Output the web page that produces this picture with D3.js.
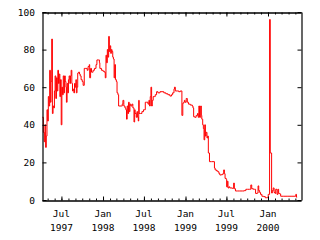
<!DOCTYPE html>
<html><head><meta charset="utf-8">
<script src="https://cdn.jsdelivr.net/npm/d3@7"></script>
<style>
html,body{margin:0;padding:0;background:#fff;}
svg{display:block;}
text{font-family:"DejaVu Sans Mono",monospace;font-size:9.5px;fill:#000;}
</style></head><body>
<svg id="c" width="320" height="240"></svg>
<script>
const dates = ["1997-04-08","1997-04-12","1997-04-16","1997-04-19","1997-04-22","1997-04-25","1997-04-28","1997-05-01","1997-05-04","1997-05-07","1997-05-10","1997-05-13","1997-05-16","1997-05-19","1997-05-22","1997-05-25","1997-05-28","1997-05-31","1997-06-03","1997-06-06","1997-06-09","1997-06-12","1997-06-15","1997-06-18","1997-06-21","1997-06-24","1997-06-27","1997-06-30","1997-07-03","1997-07-06","1997-07-09","1997-07-12","1997-07-15","1997-07-18","1997-07-21","1997-07-23","1997-07-26","1997-07-29","1997-08-01","1997-08-04","1997-08-07","1997-08-10","1997-08-13","1997-08-16","1997-08-19","1997-08-22","1997-08-25","1997-08-28","1997-08-31","1997-09-03","1997-09-05","1997-09-08","1997-09-11","1997-09-15","1997-09-19","1997-09-22","1997-09-26","1997-10-01","1997-10-05","1997-10-10","1997-10-14","1997-10-18","1997-10-23","1997-10-27","1997-11-01","1997-11-03","1997-11-07","1997-11-11","1997-11-18","1997-11-24","1997-12-01","1997-12-05","1997-12-12","1997-12-16","1997-12-18","1997-12-25","1998-01-01","1998-01-07","1998-01-11","1998-01-14","1998-01-17","1998-01-20","1998-01-23","1998-01-26","1998-01-29","1998-02-01","1998-02-04","1998-02-07","1998-02-10","1998-02-13","1998-02-16","1998-02-19","1998-02-22","1998-02-25","1998-03-01","1998-03-04","1998-03-08","1998-03-11","1998-03-17","1998-03-23","1998-03-27","1998-03-30","1998-04-03","1998-04-08","1998-04-12","1998-04-15","1998-04-18","1998-04-21","1998-04-24","1998-04-27","1998-04-30","1998-05-04","1998-05-09","1998-05-13","1998-05-18","1998-05-21","1998-05-23","1998-05-28","1998-05-31","1998-06-03","1998-06-06","1998-06-08","1998-06-10","1998-06-16","1998-06-22","1998-06-29","1998-07-05","1998-07-07","1998-07-12","1998-07-19","1998-07-23","1998-07-26","1998-07-29","1998-08-01","1998-08-04","1998-08-07","1998-08-11","1998-08-16","1998-08-20","1998-08-26","1998-09-01","1998-09-10","1998-09-19","1998-09-27","1998-10-06","1998-10-15","1998-10-24","1998-10-31","1998-11-05","1998-11-11","1998-11-13","1998-11-17","1998-11-25","1998-12-02","1998-12-09","1998-12-16","1998-12-20","1998-12-24","1998-12-27","1998-12-30","1999-01-04","1999-01-09","1999-01-14","1999-01-22","1999-01-31","1999-02-03","1999-02-06","1999-02-11","1999-02-17","1999-02-23","1999-02-26","1999-03-01","1999-03-04","1999-03-09","1999-03-12","1999-03-14","1999-03-18","1999-03-21","1999-03-24","1999-03-27","1999-03-30","1999-04-02","1999-04-06","1999-04-09","1999-04-12","1999-04-17","1999-04-26","1999-05-07","1999-05-09","1999-05-12","1999-05-18","1999-05-24","1999-05-29","1999-06-02","1999-06-09","1999-06-15","1999-06-19","1999-06-22","1999-06-25","1999-06-30","1999-07-02","1999-07-05","1999-07-08","1999-07-12","1999-07-16","1999-07-21","1999-07-27","1999-08-02","1999-08-05","1999-08-10","1999-08-18","1999-08-29","1999-09-09","1999-09-18","1999-09-25","1999-10-03","1999-10-12","1999-10-17","1999-10-21","1999-10-28","1999-11-03","1999-11-07","1999-11-14","1999-11-18","1999-11-21","1999-11-25","1999-11-29","1999-12-05","1999-12-12","1999-12-20","1999-12-27","1999-12-31","2000-01-02","2000-01-08","2000-01-11","2000-01-14","2000-01-17","2000-01-20","2000-01-24","2000-01-28","2000-02-01","2000-02-04","2000-02-10","2000-02-14","2000-02-17","2000-02-22","2000-02-26","2000-03-11","2000-03-29","2000-04-16","2000-04-30","2000-05-03","2000-05-06","2000-05-09"];
const values = [44,36,31,40,28,34,48,42,55,50,69,52,63,85.6,46,50,49,58,66,54,65,58,69,62,67,55,64,40,60,56,66,57,66,63,60,52,62,57,64,66,62,66,69,62,58,59,57,62,60,64,57,60,67.5,68,67,66,64,63,61,70,70,70,69,71,72,65,70,68,69,70,72,74.5,74.5,73,70,69,68.5,68,65,77,73,80,76,87,79,82,78,80,79,76,75,65,72,64,63,57,56,50,50,50,51,53,50,49,48,43,50,46,52,47,51,50,51,49,41.5,48,46,44,47,44,42,53,46,46,47,48,48,52,52,51,53,50,55,60,50,53,55,55,56,57.6,57,57.6,57.6,57,56.5,56,55.3,56,57,59,60,58,58,57.6,58,45,51.5,52,53,52,54,52,51,50.5,50,49,44.3,44,45,46,44,50,44,50,45,43,40,38,32,40,34,36,33,34,25,20.4,20.4,20.4,17,16,15.5,15,14,13.3,13.5,14,16,14,11.5,11,7,10,6.4,7,6.4,6.4,6.2,9,6,4.8,4.8,4.8,4.8,5,5.7,5.7,5.7,8,6,5.7,5.7,3.5,3.7,7.5,5,4,3,2,1.8,1.2,1.2,1.5,3,96,25,25,3.7,5,6.4,4,3.5,5.7,3,5.7,3.5,3.2,2,2,2,2,2,3,1.5,1.5];
const xDomain = ["1997-04-06","2000-05-26"];
const yTicks = [0,20,40,60,80,100];
const majorTicks = ["1997-07-01","1998-01-01","1998-07-01","1999-01-01","1999-07-01","2000-01-01"];
const tickMonths = ["Jul","Jan","Jul","Jan","Jul","Jan"];
const tickYears = ["1997","1998","1998","1999","1999","2000"];

const parse = d3.utcParse("%Y-%m-%d");
const data = dates.map((d,i)=>({date:parse(d), value:values[i]}));
const L=42, R=301, T=12, B=200;
const x = d3.scaleUtc().domain(xDomain.map(parse)).range([L,R]);
const y = d3.scaleLinear().domain([0,100]).range([B,T]);
const svg = d3.select("#c");

const minor = d3.utcMonth.range(x.domain()[0], x.domain()[1]);
const majors = majorTicks.map(parse);

// line
const line = d3.line().x(d=>x(d.date)).y(d=>y(d.value)).curve(d3.curveStepAfter);
svg.append("path").datum(data).attr("d", line)
  .attr("fill","none").attr("stroke","#ff0000").attr("stroke-width",1);

// axes
const gB = svg.append("g").attr("transform",`translate(0,${B+0.5})`);
gB.call(d3.axisBottom(x).tickValues(minor).tickSize(-2).tickFormat("").tickSizeOuter(0));
const gB2 = svg.append("g").attr("transform",`translate(0,${B+0.5})`);
gB2.call(d3.axisBottom(x).tickValues(majors).tickSize(-4).tickFormat("").tickSizeOuter(0));
const gT = svg.append("g").attr("transform",`translate(0,${T+0.5})`);
gT.call(d3.axisTop(x).tickValues(minor).tickSize(-2).tickFormat("").tickSizeOuter(0));
const gT2 = svg.append("g").attr("transform",`translate(0,${T+0.5})`);
gT2.call(d3.axisTop(x).tickValues(majors).tickSize(-4).tickFormat("").tickSizeOuter(0));
const gL = svg.append("g").attr("transform",`translate(${L+0.5},0)`);
gL.call(d3.axisLeft(y).tickValues(yTicks).tickSize(-4).tickFormat("").tickSizeOuter(0));
const gR = svg.append("g").attr("transform",`translate(${R+0.5},0)`);
gR.call(d3.axisRight(y).tickValues(yTicks).tickSize(-4).tickFormat("").tickSizeOuter(0));
svg.selectAll(".domain").attr("stroke","#000").attr("stroke-width",1.2);
svg.selectAll(".tick line").attr("stroke","#000");

// labels
svg.append("g").selectAll("text").data(yTicks).join("text")
  .attr("x", 35).attr("y", d=>y(d)+3.5).attr("text-anchor","end").text(d=>d);
const lab = svg.append("g").selectAll("g").data(majors).join("g");
lab.append("text").attr("x",d=>x(d)).attr("y",217).attr("text-anchor","middle").text((d,i)=>tickMonths[i]);
lab.append("text").attr("x",d=>x(d)).attr("y",230.5).attr("text-anchor","middle").text((d,i)=>tickYears[i]);
</script></body></html>
